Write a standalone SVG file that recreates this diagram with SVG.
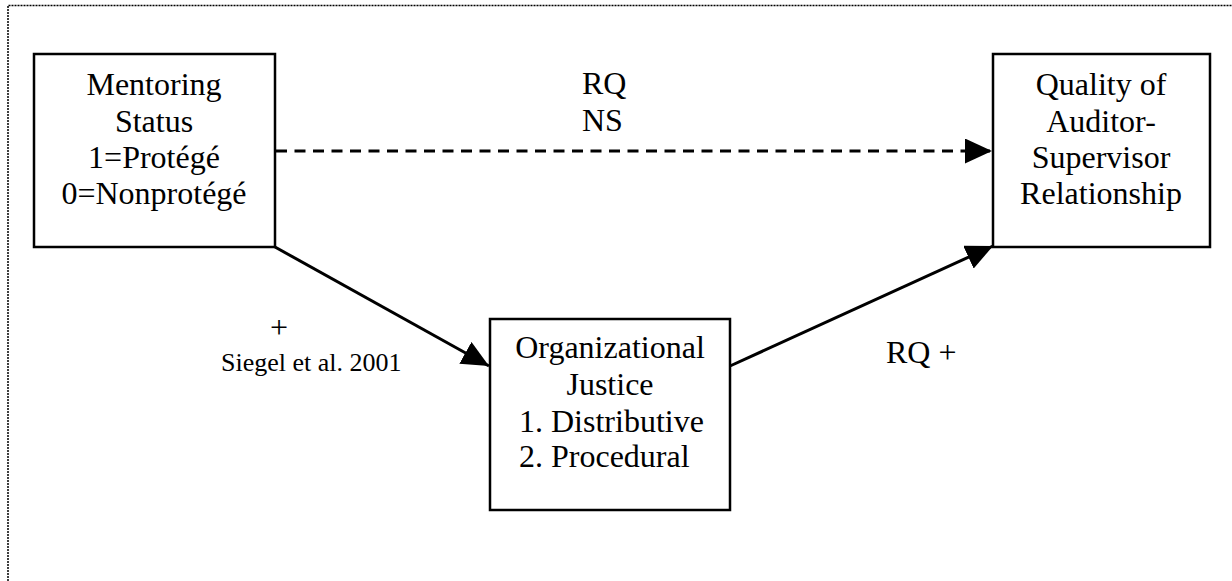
<svg xmlns="http://www.w3.org/2000/svg" width="1232" height="581" viewBox="0 0 1232 581">
<style>
.box{fill:#fff;stroke:#000;stroke-width:2.5}
.t{font-family:"Liberation Serif","Times New Roman",serif;font-size:32px;fill:#000}
.s{font-family:"Liberation Serif","Times New Roman",serif;font-size:26px;fill:#000}
.c{text-anchor:middle}
.ln{stroke:#000;stroke-width:3;fill:none}
</style>
<defs>
<marker id="ah" markerWidth="27" markerHeight="25" refX="27" refY="12.5" orient="auto" markerUnits="userSpaceOnUse">
<path d="M0,0 L27,12.5 L0,25 Z" fill="#000"/>
</marker>
</defs>
<rect width="1232" height="581" fill="#fff"/>
<path d="M8,581 V5.5 H1232" fill="none" stroke="#000" stroke-width="1.5" stroke-dasharray="2 1"/>
<g id="connectors">
<line class="ln" x1="276" y1="151" x2="992" y2="151" stroke-dasharray="11 7.5" marker-end="url(#ah)"/>
<line class="ln" x1="275" y1="247" x2="489" y2="366" marker-end="url(#ah)"/>
<line class="ln" x1="730" y1="366" x2="993" y2="246" marker-end="url(#ah)"/>
<text class="t" x="582" y="94">RQ</text>
<text class="t" x="582" y="131">NS</text>
<text class="t c" x="279" y="338">+</text>
<text class="s" x="221" y="371">Siegel et al. 2001</text>
<text class="t" x="886" y="363">RQ +</text>
</g>
<g id="mentoring">
<rect class="box" x="34" y="54" width="241" height="193"/>
<text class="t c" x="154" y="95">Mentoring</text>
<text class="t c" x="154" y="132">Status</text>
<text class="t c" x="154" y="168">1=Protégé</text>
<text class="t c" x="154" y="204">0=Nonprotégé</text>
</g>
<g id="quality">
<rect class="box" x="993" y="54" width="217" height="193"/>
<text class="t c" x="1101" y="95">Quality of</text>
<text class="t c" x="1101" y="132">Auditor-</text>
<text class="t c" x="1101" y="168">Supervisor</text>
<text class="t c" x="1101" y="204">Relationship</text>
</g>
<g id="justice">
<rect class="box" x="490" y="319" width="240" height="191"/>
<text class="t c" x="610" y="358">Organizational</text>
<text class="t c" x="610" y="395">Justice</text>
<text class="t" x="519" y="432">1. Distributive</text>
<text class="t" x="519" y="467">2. Procedural</text>
</g>
</svg>
